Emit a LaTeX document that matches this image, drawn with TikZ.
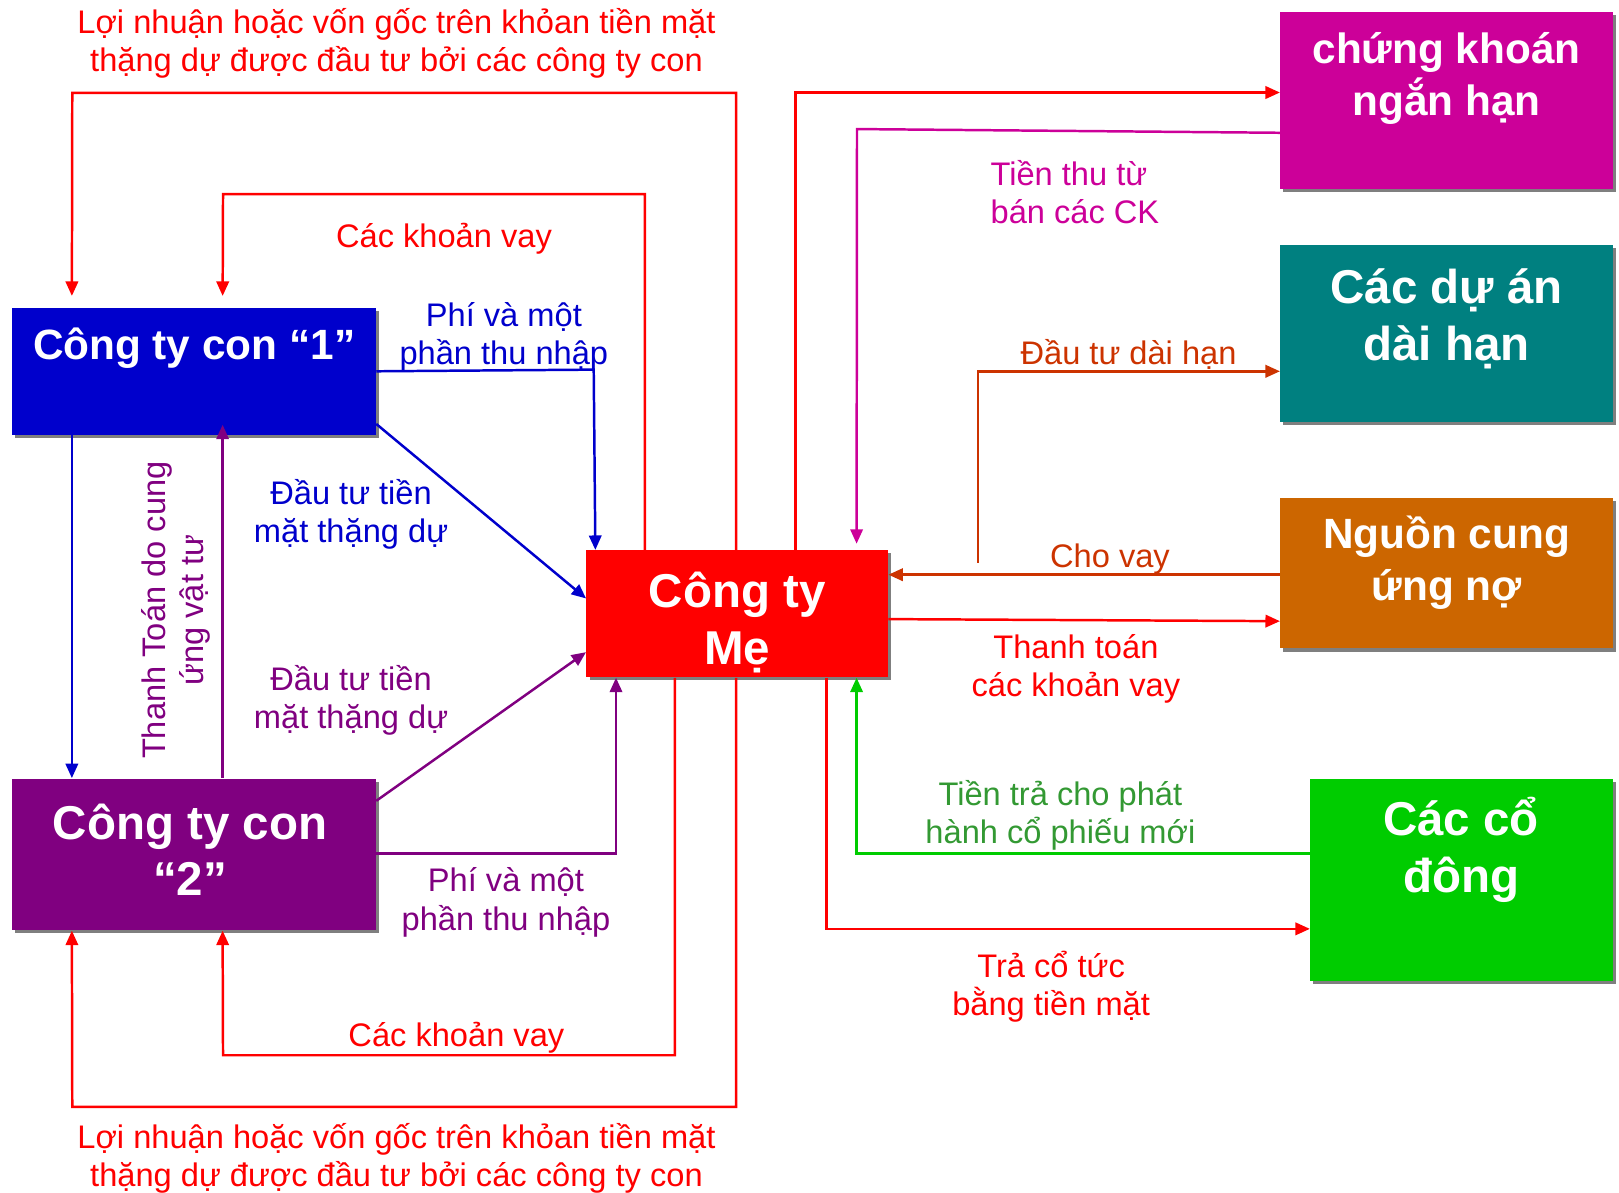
\documentclass[tikz,border=0pt]{standalone}
\usepackage{fontspec}
\setmainfont{Liberation Sans}
\usetikzlibrary{arrows.meta, calc, shadows}
\definecolor{subonecolor}{RGB}{0, 0, 204}
\definecolor{subtwocolor}{RGB}{128, 0, 128}
\definecolor{parentcolor}{RGB}{255, 0, 0}
\definecolor{shortcolor} {RGB}{204, 0, 153}
\definecolor{longcolor}  {RGB}{0, 128, 128}
\definecolor{debtcolor}  {RGB}{204, 102, 0}
\definecolor{sharecolor} {RGB}{0, 204, 0}
\definecolor{loancolor}  {RGB}{204, 51, 0}
\definecolor{sharetext}  {RGB}{51, 153, 51}
\tikzset{
	baseblock/.style={
		rectangle, inner sep=0pt, draw=none,
		drop shadow={shadow xshift=1.5pt, shadow yshift=-1.5pt, fill=black, opacity=0.5}
	},
	boxtext/.style={
		align=center, inner sep=0pt, text=white,
		font=\bfseries\fontsize{23}{27.5}\selectfont
	},
	boxtextsmall/.style={
		boxtext, font=\bfseries\fontsize{20.5}{25}\selectfont
	},
	flowlabel/.style={
		align=center, inner sep=0pt,
		font=\fontsize{15.8}{18.5}\selectfont
	},
	arrow/.style={
		-{Triangle[length=7pt, width=6pt]}, line width=1.2pt
	}
}
\begin{document}
\begin{tikzpicture}[x=0.5pt, y=-0.5pt]
		\useasboundingbox (0,0) rectangle (1568,1155);
		
		%% ═══════════════════════════════
		%%  BOXES — subsidiaries + parent
		%% ═══════════════════════════════
		\node[baseblock, fill=subonecolor, minimum width=176pt, minimum height=61.5pt] (sub1) at (188,359.5) {};
		\node[baseblock, fill=subtwocolor, minimum width=176pt, minimum height=73.5pt] (sub2) at (188,827.5) {};
		\node[baseblock, fill=parentcolor, minimum width=146pt, minimum height=61.5pt] (par)  at (714,594.5) {};
		
		\node[boxtextsmall] (sub1txt) at (188,337) {Công ty con “1”};
		\node[boxtext]      (sub2txt) at (184,823) {Công ty con\\“2”};
		\node[boxtext]      (partxt)  at (714,603) {Công ty\\Mẹ};
		
		%% ═══════════════════════════════
		%%  BOXES — right column
		%% ═══════════════════════════════
		\node[baseblock, fill=shortcolor, minimum width=161pt,   minimum height=85.5pt] (ck) at (1401,97.5) {};
		\node[baseblock, fill=longcolor,  minimum width=161pt,   minimum height=86pt]   (da) at (1401,323)  {};
		\node[baseblock, fill=debtcolor,  minimum width=161pt,   minimum height=73pt]   (nc) at (1401,555)  {};
		\node[baseblock, fill=sharecolor, minimum width=146.5pt, minimum height=98pt]   (cd) at (1415.5,852) {};
		
		\node[boxtextsmall] (cktxt) at (1401,76)   {chứng khoán\\ngắn hạn};
		\node[boxtext]      (datxt) at (1401,309)  {Các dự án\\dài hạn};
		\node[boxtextsmall] (nctxt) at (1401,545)  {Nguồn cung\\ứng nợ};
		\node[boxtext]      (cdtxt) at (1415,823)  {Các cổ\\đông};
		
		%% ═══════════════════════════════
		%%  ARROWS — parent ↔ subsidiaries (red)
		%% ═══════════════════════════════
		\draw[arrow, parentcolor, shorten >=5.5pt] ($(par.north)+(-1,0)$) |- (70,90) -- ($(sub1.north west)+(58,0)$);
		\draw[arrow, parentcolor, shorten >=5.5pt] ($(par.north west)+(57,0)$) |- (216,188) -- ($(sub1.north west)+(204,0)$);
		\draw[arrow, parentcolor] ($(par.south)+(-1,0)$) |- (70,1072) -- ($(sub2.south west)+(58,0)$);
		\draw[arrow, parentcolor] ($(par.south west)+(86,0)$) |- (216,1022) -- ($(sub2.south west)+(204,0)$);
		
		%% ═══════════════════════════════
		%%  ARROWS — subsidiaries → parent
		%% ═══════════════════════════════
		\draw[arrow, subonecolor] ($(sub1.north east)+(0,62)$) -- (575,358) -- ($(par.north west)+(9,0)$);
		\draw[arrow, subonecolor] ($(sub1.north east)+(0,113)$) -- ($(par.north west)+(0,47)$);
		\draw[arrow, subonecolor] ($(sub1.south west)+(58,0)$) -- ($(sub2.north west)+(58,0)$);
		\draw[arrow, subtwocolor] ($(sub2.north west)+(204,0)$) -- ($(sub1.south west)+(204,-10)$);
		\draw[arrow, subtwocolor] ($(sub2.north east)+(0,22)$) -- ($(par.north west)+(0,99)$);
		\draw[arrow, subtwocolor] ($(sub2.north east)+(0,73)$) -| ($(par.south west)+(29,0)$);
		
		%% ═══════════════════════════════
		%%  ARROWS — parent ↔ right column
		%% ═══════════════════════════════
		\coordinate (lgstart) at (947,545);
		\draw[arrow, parentcolor] ($(par.north west)+(203,0)$) |- ($(ck.north west)+(0,78)$);
		\draw[arrow, shortcolor, shorten >=3pt] ($(ck.north west)+(0,117)$) -- (830,125) -- ($(par.north west)+(262,0)$);
		\draw[arrow, loancolor] (lgstart) |- ($(da.north west)+(0,123)$);
		\draw[arrow, loancolor] ($(nc.north west)+(0,75)$) -- ($(par.north east)+(0,24)$);
		\draw[arrow, parentcolor] ($(par.north east)+(0,67)$) -- ($(nc.north west)+(0,120)$);
		\draw[arrow, sharecolor] ($(cd.north west)+(0,73)$) -| ($(par.south west)+(262,0)$);
		\draw[arrow, parentcolor] ($(par.south west)+(233,0)$) |- ($(cd.north west)+(0,146)$);
		
		%% ═══════════════════════════════
		%%  LABELS
		%% ═══════════════════════════════
		\node[flowlabel, text=parentcolor] (lbtop) at (384,42) {Lợi nhuận hoặc vốn gốc trên khỏan tiền mặt\\thặng dự được đầu tư bởi các công ty con};
		\node[flowlabel, text=parentcolor] (lbbot) at (384,1122) {Lợi nhuận hoặc vốn gốc trên khỏan tiền mặt\\thặng dự được đầu tư bởi các công ty con};
		\node[flowlabel, text=parentcolor] (lbvay1) at (430,231) {Các khoản vay};
		\node[flowlabel, text=parentcolor] (lbvay2) at (442,1005) {Các khoản vay};
		\node[flowlabel, text=subonecolor] (lbfee1) at (488,326) {Phí và một\\phần thu nhập};
		\node[flowlabel, text=subonecolor] (lbinv1) at (340,498) {Đầu tư tiền\\mặt thặng dự};
		\node[flowlabel, text=subtwocolor] (lbinv2) at (340,678) {Đầu tư tiền\\mặt thặng dự};
		\node[flowlabel, text=subtwocolor] (lbfee2) at (490,874) {Phí và một\\phần thu nhập};
		\node[flowlabel, text=subtwocolor, rotate=90] (lbsupply) at (170,591) {Thanh Toán do cung\\ứng vật tư};
		\node[flowlabel, text=shortcolor, align=left, anchor=west] (lbsell) at (959,186) {Tiền thu từ\\bán các CK};
		\node[flowlabel, text=loancolor]   (lblong) at (1093,343) {Đầu tư dài hạn};
		\node[flowlabel, text=loancolor]   (lblend) at (1075,541) {Cho vay};
		\node[flowlabel, text=parentcolor] (lbrepay) at (1042,648) {Thanh toán\\các khoản vay};
		\node[flowlabel, text=sharetext]   (lbissue) at (1027,790) {Tiền trả cho phát\\hành cổ phiếu mới};
		\node[flowlabel, text=parentcolor] (lbdiv) at (1018,956) {Trả cổ tức\\bằng tiền mặt};
	\end{tikzpicture}
\end{document}
